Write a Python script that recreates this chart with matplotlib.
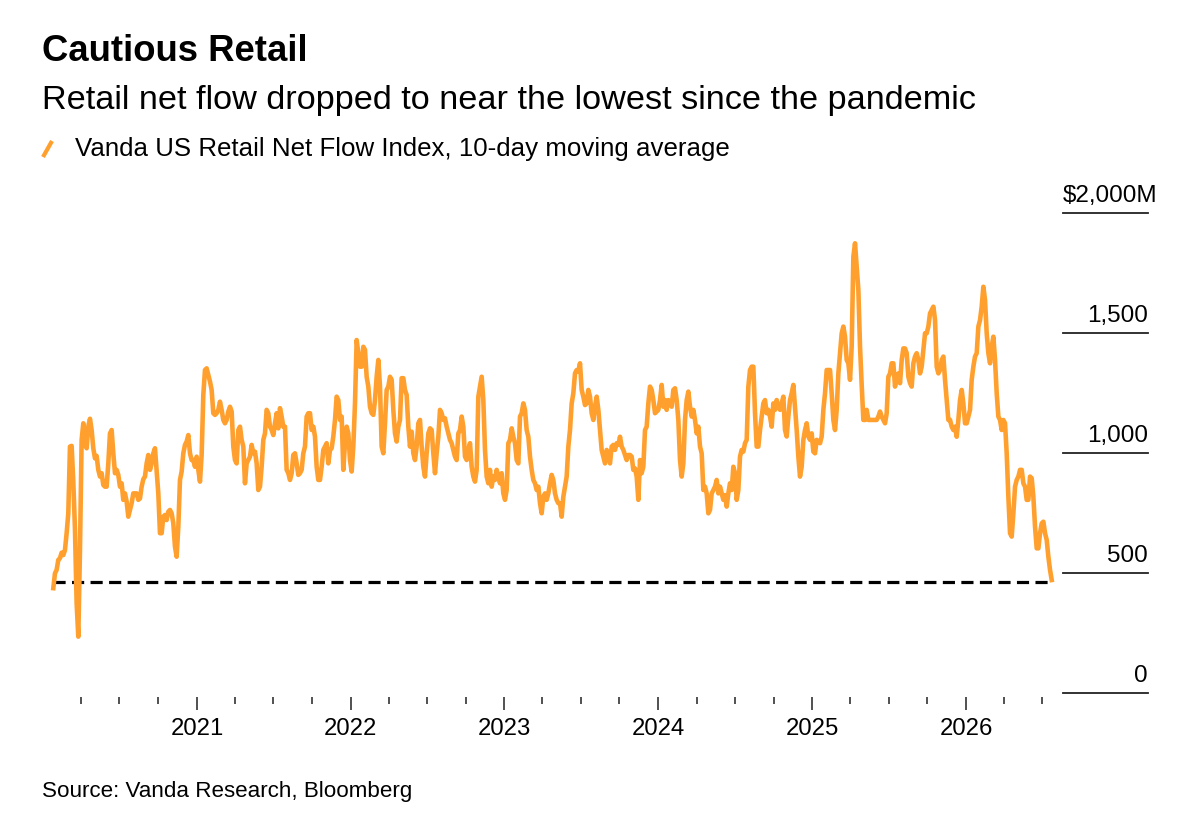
import matplotlib
matplotlib.use("Agg")
import matplotlib.pyplot as plt
import matplotlib.dates as mdates
from matplotlib.lines import Line2D
import pandas as pd

plt.rcParams['font.family'] = ['Liberation Sans', 'DejaVu Sans']

# Vanda US Retail Net Flow Index, 10-day moving average ($M)
start_date = '2020-01-26'
end_date = '2026-07-23'

flow_part1 = [438, 500, 514, 556, 563, 586, 576, 597, 667, 750,
              1028, 1031, 882, 683, 375, 236, 597, 1056, 1125, 1035,
              1021, 1111, 1144, 1097, 1021, 979, 989, 931, 903, 917,
              868, 861, 861, 958, 1083, 1097, 1000, 917, 931, 910,
              861, 875, 806, 833, 799, 736, 764, 792, 833, 833,
              833, 806, 812, 861, 892, 903, 958, 993, 931, 958,
              1000, 1021, 924, 833, 667, 667, 736, 743, 722, 757,
              764, 750, 708, 611, 569, 694, 889, 924, 1000, 1035,
              1049, 1076, 1000, 972, 972, 944, 986, 931, 882, 993,
              1243, 1347, 1354, 1326, 1299, 1264, 1167, 1160, 1167, 1181,
              1215, 1181, 1139, 1125, 1139, 1174]
flow_part2 = [1194, 1174, 1028, 972, 958, 1097, 1111, 1056, 1028, 875,
              958, 972, 986, 1035, 1000, 1007, 958, 847, 861, 944,
              1056, 1083, 1181, 1167, 1111, 1097, 1076, 1125, 1167, 1104,
              1188, 1153, 1111, 1111, 931, 917, 889, 917, 993, 1000,
              958, 910, 917, 931, 1000, 1028, 1153, 1167, 1167, 1097,
              1111, 1070, 944, 889, 889, 944, 1014, 1028, 1042, 958,
              1014, 1021, 1070, 1139, 1236, 1222, 1139, 1153, 931, 1042,
              1111, 1083, 972, 924, 1028, 1208, 1472, 1417, 1361, 1361,
              1444, 1431, 1319, 1278, 1194, 1167, 1160, 1222, 1319, 1389,
              1278, 1028, 1000, 1125, 1264, 1278, 1319, 1306, 1181, 1083,
              1049, 1111, 1139, 1313, 1313, 1264, 1243, 1111, 1028, 1090,
              1000, 972, 1028, 1125, 1139, 1028, 944, 903, 1000, 1083,
              1104]
flow_part3 = [1097, 1000, 917, 1000, 1069, 1181, 1167, 1139, 1146, 1111,
              1083, 1056, 1042, 1014, 986, 972, 1083, 1097, 1153, 1111,
              986, 972, 1014, 1042, 944, 903, 882, 931, 1236, 1278,
              1319, 1222, 1014, 903, 875, 931, 861, 903, 889, 931,
              903, 875, 917, 833, 806, 847, 1042, 1056, 1104, 1069,
              1042, 972, 958, 1153, 1167, 1208, 1181, 1097, 1069, 986,
              931, 889, 875, 847, 861, 792, 750, 819, 833, 806,
              833, 875, 910, 889, 833, 806, 792, 792, 736, 819,
              861, 903, 1028, 1097, 1208, 1250, 1333, 1347, 1340, 1375,
              1264, 1236, 1201, 1208, 1264, 1236, 1167, 1139, 1194, 1236,
              1181, 1097, 1014, 986, 958, 1014, 986, 958, 1028, 1035,
              1014, 1042, 1035, 1069, 1028, 1014, 993, 972, 993, 993]
flow_part4 = [986, 931, 937, 903, 806, 972, 917, 944, 1097, 1111,
              1208, 1278, 1264, 1222, 1167, 1174, 1181, 1222, 1285, 1194,
              1222, 1181, 1222, 1208, 1194, 1264, 1271, 1222, 1139, 972,
              903, 958, 1139, 1222, 1257, 1194, 1153, 1181, 1139, 1083,
              1111, 1028, 1000, 847, 861, 833, 750, 764, 833, 847,
              861, 889, 833, 861, 833, 806, 826, 778, 833, 875,
              847, 944, 917, 806, 847, 986, 1014, 1007, 1042, 1056,
              1278, 1347, 1361, 1361, 1167, 1028, 1028, 1097, 1153, 1208,
              1222, 1167, 1181, 1153, 1111, 1208, 1181, 1222, 1194, 1181,
              1208, 1236, 1097, 1070, 1153, 1222, 1250, 1285, 1194, 1097,
              986, 903, 944, 1056, 1097, 1125, 1070, 1056, 1083, 1007,
              1000, 1056, 1049, 1042, 1070, 1181, 1250, 1347, 1347]
flow_part5 = [1347, 1250, 1139, 1097, 1181, 1333, 1417, 1500, 1528, 1486,
              1389, 1375, 1306, 1444, 1819, 1875, 1778, 1681, 1444, 1285,
              1139, 1139, 1181, 1139, 1139, 1139, 1139, 1139, 1139, 1153,
              1174, 1153, 1139, 1125, 1167, 1319, 1333, 1375, 1375, 1278,
              1319, 1333, 1292, 1389, 1437, 1437, 1417, 1319, 1292, 1278,
              1375, 1403, 1417, 1389, 1333, 1361, 1431, 1500, 1500, 1528,
              1583, 1597, 1611, 1556, 1361, 1333, 1347, 1389, 1403, 1306,
              1222, 1139, 1139, 1111, 1097, 1111, 1069, 1139, 1222, 1264,
              1208, 1125, 1125, 1153, 1181, 1306, 1361, 1403, 1417, 1528,
              1555, 1611, 1694, 1639, 1500, 1417, 1375, 1444, 1486, 1389,
              1250, 1153, 1139, 1097, 1139, 1125, 1000, 819, 667, 653,
              750, 861, 889, 903, 931, 931, 875, 861, 806, 806,
              903, 896, 819, 694, 604, 604, 667, 708, 715, 667,
              639, 569, 514, 472]

low_since_pandemic = 465

y_ticks = [0, 500, 1000, 1500, 2000]
y_labels = ['0', '500', '1,000', '1,500', '$2,000M']

title = 'Cautious Retail'
subtitle = 'Retail net flow dropped to near the lowest since the pandemic'
legend_label = 'Vanda US Retail Net Flow Index, 10-day moving average'
source = 'Source: Vanda Research, Bloomberg'

ORANGE = '#ffa02e'

flow = flow_part1 + flow_part2 + flow_part3 + flow_part4 + flow_part5
dates = pd.date_range(start_date, end_date, periods=len(flow))

W, H = 1200, 836
fig = plt.figure(figsize=(W / 100, H / 100), dpi=100)
ax = fig.add_axes([53.3 / W, 1 - 693.3 / H, (1051.7 - 53.3) / W, 480 / H])

ax.axhline(low_since_pandemic, color='black', lw=2.3, linestyle=(0, (3.8, 2.0)), zorder=2)
ax.plot(dates, flow, color=ORANGE, lw=3.3, solid_joinstyle='round', clip_on=False, zorder=3)

ax.set_xlim(dates[0], dates[-1])
ax.set_ylim(0, 2000)

for s in ax.spines.values():
    s.set_visible(False)
ax.spines['bottom'].set_position(('outward', 3))

ax.tick_params(axis='y', left=False, labelleft=False)
ax.xaxis.set_major_locator(mdates.YearLocator())
ax.xaxis.set_major_formatter(mdates.DateFormatter('%Y'))
ax.xaxis.set_minor_locator(mdates.MonthLocator(bymonth=[1, 4, 7, 10]))
ax.tick_params(axis='x', which='major', length=9.5, width=1.1, color='#222222',
               labelsize=17.2, pad=5)
ax.tick_params(axis='x', which='minor', length=5, width=1.1, color='#222222')

# right-hand value scale: short rules with labels sitting on them
trans = ax.get_yaxis_transform()
x0, x1 = 1.0113, 1.0965
for v, lab in zip(y_ticks, y_labels):
    ax.plot([x0, x1], [v, v], transform=trans, clip_on=False, color='#222222', lw=1.3)
    if lab.startswith('$'):
        ax.annotate(lab, xy=(x0, v), xycoords=trans, xytext=(0, 8.4),
                    textcoords='offset points', ha='left', va='baseline', fontsize=17.5)
    else:
        ax.annotate(lab, xy=(x1, v), xycoords=trans, xytext=(0, 8.4),
                    textcoords='offset points', ha='right', va='baseline', fontsize=17.5)

fig.text(42 / W, 1 - 61 / H, title, fontsize=26.3, fontweight='bold', va='baseline')
fig.text(42 / W, 1 - 109 / H, subtitle, fontsize=24.7, va='baseline')
fig.add_artist(Line2D([43 / W, 52 / W], [1 - 157 / H, 1 - 141 / H], color=ORANGE,
                      lw=3, solid_capstyle='butt'))
fig.text(75 / W, 1 - 156 / H, legend_label, fontsize=18.6, va='baseline')
fig.text(42 / W, 1 - 797 / H, source, fontsize=16.1, va='baseline')

fig.savefig('out.png', dpi=100, facecolor='white')
